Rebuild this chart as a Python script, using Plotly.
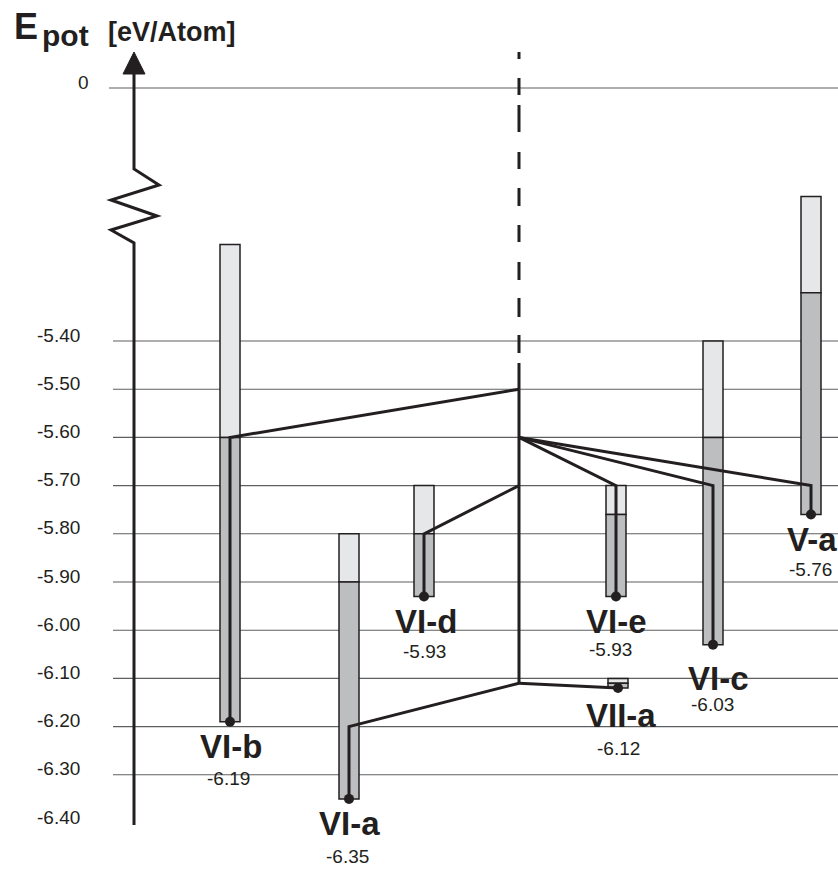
import plotly.graph_objects as go

# ---------------- data ----------------
names = ["VI-b", "VI-a", "VI-d", "VI-e", "VII-a", "VI-c", "V-a"]
top_light = [-5.20, -5.80, -5.70, -5.70, -6.10, -5.40, -5.10]   # top of light segment
top_dark = [-5.60, -5.90, -5.80, -5.76, -6.11, -5.60, -5.30]    # top of dark segment
final_e = [-6.19, -6.35, -5.93, -5.93, -6.12, -6.03, -5.76]     # final energy (dot)
src_level = [-5.50, -6.11, -5.70, -5.60, -6.11, -5.60, -5.60]   # level on central line
join_level = [-5.60, -6.20, -5.80, -5.70, -6.12, -5.70, -5.70]  # level where branch meets the structure
value_labels = ["-6.19", "-6.35", "-5.93", "-5.93", "-6.12", "-6.03", "-5.76"]
tick_values = [-5.40, -5.50, -5.60, -5.70, -5.80, -5.90, -6.00, -6.10, -6.20, -6.30, -6.40]
tick_labels = ["-5.40", "-5.50", "-5.60", "-5.70", "-5.80", "-5.90", "-6.00", "-6.10", "-6.20", "-6.30", "-6.40"]
zero_label = "0"

# ---------------- layout / style ----------------
W, H = 838, 869
PX_PER_EV = 482.0
REF_VAL, REF_PX = -5.40, 341.0


def y_of(px):
    return REF_VAL + (REF_PX - px) / PX_PER_EV


x_pos = [230, 349, 424, 616, 618, 713, 811]
x_mid = 519
bar_w = 20
name_dx = [1, 0, 2, 0, 3, 5, 1]
name_dy = [25, 25, 25, 25, 27, 34, 25]
val_dx = [-2, -2, 0, -6, 0, -1, -1]
val_dy = [57, 58, 55, 53, 60, 60, 55]

INK = "#231f20"
GRID = "#5e5f62"
LIGHT = "#e6e7e8"
DARK = "#bcbec0"
FONT = "Liberation Sans, Arial, Helvetica, sans-serif"

fig = go.Figure()

# bars: light (upper) and dark (lower) segments
fig.add_trace(go.Bar(
    x=x_pos, base=top_dark, y=[a - b for a, b in zip(top_light, top_dark)],
    width=bar_w, marker=dict(color=LIGHT, line=dict(color=INK, width=1.5)),
    hoverinfo="skip"))
fig.add_trace(go.Bar(
    x=x_pos, base=final_e, y=[a - b for a, b in zip(top_dark, final_e)],
    width=bar_w, marker=dict(color=DARK, line=dict(color=INK, width=1.5)),
    hoverinfo="skip"))

# central solid line
fig.add_trace(go.Scatter(
    x=[x_mid, x_mid], y=[max(src_level), min(src_level)], mode="lines",
    line=dict(color=INK, width=3), hoverinfo="skip"))
# central dashed line above
fig.add_trace(go.Scatter(
    x=[x_mid, x_mid], y=[y_of(52), max(src_level)], mode="lines",
    line=dict(color=INK, width=3,
              dash="7px,19px,17px,10px,27px,20px,17px,19px,18px,19px,17px,20px,18px,18px,19px,18px,18px,10px,60px,1px"),
    hoverinfo="skip"))

# branches
bx, by = [], []
for xp, s, j, f in zip(x_pos, src_level, join_level, final_e):
    bx += [x_mid, xp, xp, None]
    by += [s, j, f, None]
fig.add_trace(go.Scatter(x=bx, y=by, mode="lines",
                         line=dict(color=INK, width=3), hoverinfo="skip"))
# dots
fig.add_trace(go.Scatter(x=x_pos, y=final_e, mode="markers",
                         marker=dict(color=INK, size=10), hoverinfo="skip"))

# gridlines
shapes = []
for v in tick_values[:-1]:
    shapes.append(dict(type="line", xref="x", yref="y", x0=113, x1=W, y0=v, y1=v,
                       line=dict(color=GRID, width=1.1), layer="below"))
shapes.append(dict(type="line", xref="x", yref="y", x0=109, x1=W, y0=y_of(88), y1=y_of(88),
                   line=dict(color=GRID, width=1.1), layer="below"))

# axis with break and arrow
ax_pts = [(134, 825), (134, 243), (111, 230), (157, 216), (111, 200), (159, 185), (134, 169), (134, 73)]
path = "M " + " L ".join(f"{x},{y_of(p)}" for x, p in ax_pts)
shapes.append(dict(type="path", xref="x", yref="y", path=path,
                   line=dict(color=INK, width=3), layer="above"))
arrow = f"M 123,{y_of(74)} L 145,{y_of(74)} L 134,{y_of(52)} Z"
shapes.append(dict(type="path", xref="x", yref="y", path=arrow,
                   fillcolor=INK, line=dict(color=INK, width=1), layer="above"))

annotations = []
for i, n in enumerate(names):
    annotations.append(dict(x=x_pos[i], y=final_e[i], xref="x", yref="y", text=f"<b>{n}</b>",
                            showarrow=False, xshift=name_dx[i], yshift=-name_dy[i],
                            xanchor="center", yanchor="middle",
                            font=dict(size=33, family=FONT, color=INK)))
    annotations.append(dict(x=x_pos[i], y=final_e[i], xref="x", yref="y", text=value_labels[i],
                            showarrow=False, xshift=val_dx[i], yshift=-val_dy[i],
                            xanchor="center", yanchor="middle",
                            font=dict(size=19, family=FONT, color=INK)))

annotations.append(dict(x=91, y=y_of(82), xref="x", yref="y", text=zero_label, showarrow=False,
                        xanchor="right", yanchor="middle", font=dict(size=19, family=FONT, color=INK)))
annotations.append(dict(x=12, y=y_of(26), xref="x", yref="y", text="<b>E</b>", showarrow=False,
                        xanchor="left", yanchor="middle", font=dict(size=36, family=FONT, color=INK)))
annotations.append(dict(x=40, y=y_of(35), xref="x", yref="y", text="<b>pot</b>", showarrow=False,
                        xanchor="left", yanchor="middle", font=dict(size=30, family=FONT, color=INK)))
annotations.append(dict(x=106, y=y_of(32), xref="x", yref="y", text="<b>[eV/Atom]</b>", showarrow=False,
                        xanchor="left", yanchor="middle", font=dict(size=27, family=FONT, color=INK)))

fig.update_layout(
    width=W, height=H, margin=dict(l=0, r=0, t=0, b=0),
    plot_bgcolor="white", paper_bgcolor="white", showlegend=False, barmode="overlay",
    xaxis=dict(range=[0, W], visible=False),
    yaxis=dict(range=[y_of(H), y_of(0)], showgrid=False, zeroline=False, showline=False,
               tickvals=tick_values, ticktext=tick_labels, ticks="",
               ticklabelposition="inside", ticklabelstandoff=34, ticklabelshift=-6,
               tickfont=dict(size=19, family=FONT, color=INK)),
    shapes=shapes, annotations=annotations,
)

fig.write_html("out.html", config={"displayModeBar": False},
               post_script="document.body.style.margin='0';document.body.style.overflow='hidden';")
